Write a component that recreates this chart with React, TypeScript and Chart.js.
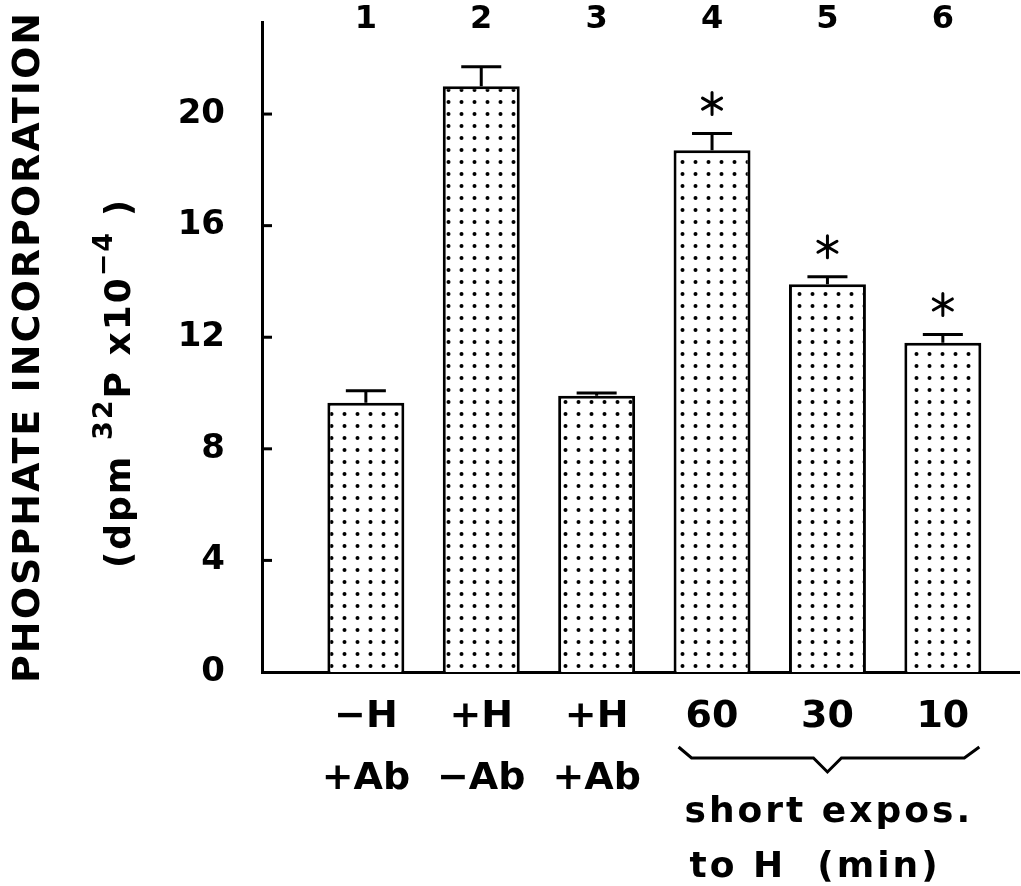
import React, { useEffect, useRef } from "react";
import { Chart, registerables } from "chart.js";

Chart.register(...registerables);

// ---- data ----
const positions = [1, 2, 3, 4, 5, 6];
const topLabels = ["1", "2", "3", "4", "5", "6"];
const categoryLabels: string[][] = [
  ["−H", "+Ab"],
  ["+H", "−Ab"],
  ["+H", "+Ab"],
  ["60"],
  ["30"],
  ["10"],
];
const values = [9.65, 21.0, 9.9, 18.7, 13.9, 11.8];
const errors = [0.43, 0.7, 0.1, 0.6, 0.27, 0.3];
const significant = [false, false, false, true, true, true];
const yTicks = [0, 4, 8, 12, 16, 20];
const groupCaption = ["short expos.", "to H  (min)"];
const yTitleMain = "PHOSPHATE INCORPORATION";
const yTitleUnits = [
  { t: "(dpm ", sup: false },
  { t: "32", sup: true },
  { t: "P x10", sup: false },
  { t: "−4", sup: true },
  { t: " )", sup: false },
];

const FONT = "'DejaVu Sans', 'Liberation Sans', sans-serif";

const decorPlugin = {
  id: "decor",
  afterDatasetsDraw(chart: any) {
    const ctx: CanvasRenderingContext2D = chart.ctx;
    const area = chart.chartArea;
    const xs = chart.scales.x;
    const ys = chart.scales.y;
    const meta = chart.getDatasetMeta(0);
    ctx.save();
    ctx.strokeStyle = "#000";
    ctx.fillStyle = "#000";
    ctx.lineWidth = 3;
    ctx.lineCap = "butt";

    // inward y tick marks
    ys.ticks.forEach((t: any) => {
      if (t.value === 0) return;
      const y = ys.getPixelForValue(t.value);
      ctx.beginPath();
      ctx.moveTo(area.left, y);
      ctx.lineTo(area.left + 10, y);
      ctx.stroke();
    });

    // error bars + asterisks
    meta.data.forEach((el: any, i: number) => {
      const x = el.x;
      const top = ys.getPixelForValue(values[i]);
      const yErr = ys.getPixelForValue(values[i] + errors[i]);
      const half = el.width * 0.26;
      ctx.lineWidth = 3;
      ctx.beginPath();
      ctx.moveTo(x, top);
      ctx.lineTo(x, yErr);
      ctx.moveTo(x - half, yErr);
      ctx.lineTo(x + half, yErr);
      ctx.stroke();
      if (significant[i]) {
        const cy = yErr - 30;
        const r = 11;
        ctx.lineCap = "round";
        ctx.lineWidth = 3;
        ctx.beginPath();
        for (let k = 0; k < 3; k++) {
          const a = Math.PI / 2 + (k * Math.PI) / 3;
          ctx.moveTo(x - r * Math.cos(a), cy - r * Math.sin(a));
          ctx.lineTo(x + r * Math.cos(a), cy + r * Math.sin(a));
        }
        ctx.stroke();
        ctx.lineCap = "butt";
      }
    });

    // top numbers
    ctx.font = `bold 32px ${FONT}`;
    ctx.textAlign = "center";
    ctx.textBaseline = "middle";
    positions.forEach((p, i) => {
      ctx.fillText(topLabels[i], xs.getPixelForValue(p), 20);
    });

    // brace under groups 4-6
    const b4 = meta.data[3];
    const b5 = meta.data[4];
    const b6 = meta.data[5];
    const left = b4.x - b4.width / 2 + 5;
    const right = b6.x + b6.width / 2 - 2;
    const mid = b5.x;
    const yEnd = area.bottom + 75;
    const yLine = area.bottom + 86;
    const yTip = area.bottom + 100;
    ctx.lineWidth = 3;
    ctx.lineJoin = "miter";
    ctx.beginPath();
    ctx.moveTo(left, yEnd);
    ctx.lineTo(left + 13, yLine);
    ctx.lineTo(mid - 14, yLine);
    ctx.lineTo(mid, yTip);
    ctx.lineTo(mid + 14, yLine);
    ctx.lineTo(right - 15, yLine);
    ctx.lineTo(right, yEnd);
    ctx.stroke();

    // caption under brace
    ctx.font = `bold 36px ${FONT}`;
    (ctx as any).letterSpacing = "3px";
    ctx.textAlign = "left";
    ctx.textBaseline = "alphabetic";
    ctx.fillText(groupCaption[0], left + 6, area.bottom + 150);
    ctx.fillText(groupCaption[1], left + 11, area.bottom + 205);
    (ctx as any).letterSpacing = "0px";

    // y titles (rotated)
    const midY = (area.top + area.bottom) / 2;
    ctx.save();
    ctx.translate(29, midY);
    ctx.rotate(-Math.PI / 2);
    ctx.font = `bold 38px ${FONT}`;
    (ctx as any).letterSpacing = "2px";
    ctx.textAlign = "center";
    ctx.textBaseline = "middle";
    ctx.fillText(yTitleMain, 0, 0);
    ctx.restore();

    ctx.save();
    ctx.translate(121, midY + 36);
    ctx.rotate(-Math.PI / 2);
    (ctx as any).letterSpacing = "2px";
    ctx.textAlign = "left";
    ctx.textBaseline = "middle";
    const mainFont = `bold 36px ${FONT}`;
    const supFont = `bold 27px ${FONT}`;
    let total = 0;
    yTitleUnits.forEach((s) => {
      ctx.font = s.sup ? supFont : mainFont;
      total += ctx.measureText(s.t).width;
    });
    let cx = -total / 2;
    yTitleUnits.forEach((s) => {
      ctx.font = s.sup ? supFont : mainFont;
      ctx.fillText(s.t, cx, s.sup ? -16 : 0);
      cx += ctx.measureText(s.t).width;
    });
    ctx.restore();

    ctx.restore();
  },
};

export default function App() {
  const canvasRef = useRef<HTMLCanvasElement | null>(null);

  useEffect(() => {
    const canvas = canvasRef.current;
    if (!canvas) return;
    const ctx = canvas.getContext("2d")!;

    const tile = document.createElement("canvas");
    tile.width = 13;
    tile.height = 12;
    const tc = tile.getContext("2d")!;
    tc.fillStyle = "#fff";
    tc.fillRect(0, 0, 13, 12);
    tc.fillStyle = "#000";
    tc.beginPath();
    tc.arc(6.5, 6, 2, 0, Math.PI * 2);
    tc.fill();
    const pattern = ctx.createPattern(tile, "repeat")!;

    Chart.defaults.font.family = FONT;
    Chart.defaults.color = "#000";

    const chart = new Chart(ctx, {
      type: "bar",
      data: {
        datasets: [
          {
            data: positions.map((p, i) => ({ x: p, y: values[i] })),
            backgroundColor: pattern as any,
            borderColor: "#000",
            borderWidth: 3,
            borderSkipped: "start",
            barPercentage: 0.667,
            categoryPercentage: 1,
          },
        ],
      },
      options: {
        animation: false,
        responsive: true,
        maintainAspectRatio: false,
        layout: { padding: { top: 22, right: 2, left: 0, bottom: 0 } },
        plugins: {
          legend: { display: false },
          tooltip: { enabled: false },
        },
        scales: {
          x: {
            type: "linear",
            offset: false,
            min: 0.1,
            max: 6.66,
            grid: { display: false, drawTicks: false },
            border: { display: true, color: "#000", width: 3 },
            ticks: {
              stepSize: 1,
              autoSkip: false,
              maxRotation: 0,
              includeBounds: false,
              padding: 14,
              color: "#000",
              font: { family: FONT, weight: "bold", size: 38, lineHeight: 1.63 },
              callback: (v: any) => categoryLabels[Number(v) - 1] ?? "",
            },
            afterFit: (s: any) => {
              s.height = 214;
              s.paddingLeft = 0;
              s.paddingRight = 0;
            },
          },
          y: {
            min: 0,
            max: 23.3,
            grid: { display: false, drawTicks: false },
            border: { display: true, color: "#000", width: 3 },
            ticks: {
              padding: 37,
              color: "#000",
              includeBounds: false,
              font: { family: FONT, weight: "bold", size: 34 },
            },
            afterBuildTicks: (s: any) => {
              s.ticks = yTicks.map((v) => ({ value: v }));
            },
            afterFit: (s: any) => {
              s.width = 262;
              s.paddingTop = 0;
              s.paddingBottom = 0;
            },
          },
        },
      } as any,
      plugins: [decorPlugin],
    });

    return () => chart.destroy();
  }, []);

  return (
    <div style={{ position: "absolute", left: 0, top: 0, width: 1021, height: 886, background: "#fff" }}>
      <canvas ref={canvasRef} />
    </div>
  );
}
